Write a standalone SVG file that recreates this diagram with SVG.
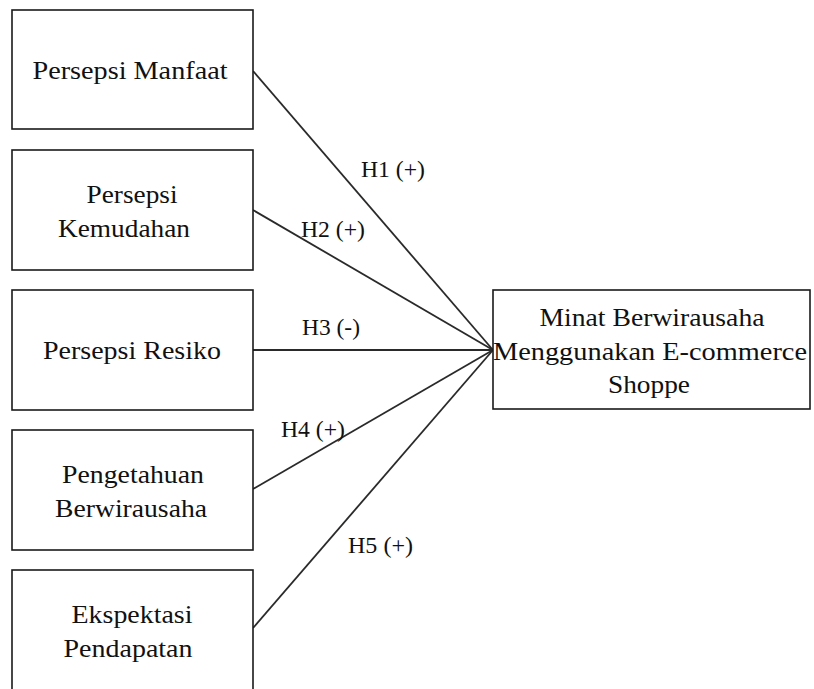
<svg xmlns="http://www.w3.org/2000/svg" width="814" height="689" viewBox="0 0 814 689">
<style>
.box{fill:#ffffff;stroke:#1a1a1a;stroke-width:1.6}
.t{font-family:"Liberation Serif","Times New Roman",serif;font-size:26px;fill:#111111;text-anchor:middle}
.h{font-family:"Liberation Serif","Times New Roman",serif;font-size:24px;fill:#111111}
.c{stroke:#2a2a2a;stroke-width:1.8;fill:none}
</style>
<rect width="814" height="689" fill="#ffffff"/>
<g id="connectors">
<line class="c" x1="253" y1="71" x2="493" y2="350"/>
<line class="c" x1="253" y1="210" x2="493" y2="350"/>
<line class="c" x1="253" y1="350" x2="493" y2="350"/>
<line class="c" x1="253" y1="489" x2="493" y2="350"/>
<line class="c" x1="253" y1="628" x2="493" y2="350"/>
<text class="h" x="361" y="177" textLength="64" lengthAdjust="spacingAndGlyphs">H1 (+)</text>
<text class="h" x="301" y="237" textLength="64" lengthAdjust="spacingAndGlyphs">H2 (+)</text>
<text class="h" x="302" y="335" textLength="58" lengthAdjust="spacingAndGlyphs">H3 (-)</text>
<text class="h" x="281" y="437" textLength="64" lengthAdjust="spacingAndGlyphs">H4 (+)</text>
<text class="h" x="348" y="553" textLength="65" lengthAdjust="spacingAndGlyphs">H5 (+)</text>
</g>
<g id="node-persepsi-manfaat">
<rect class="box" x="12" y="10" width="241" height="119"/>
<text class="t" x="130" y="79" textLength="195" lengthAdjust="spacingAndGlyphs">Persepsi Manfaat</text>
</g>
<g id="node-persepsi-kemudahan">
<rect class="box" x="12" y="150" width="241" height="120"/>
<text class="t" x="132" y="203" textLength="91" lengthAdjust="spacingAndGlyphs">Persepsi</text>
<text class="t" x="124" y="237" textLength="132" lengthAdjust="spacingAndGlyphs">Kemudahan</text>
</g>
<g id="node-persepsi-resiko">
<rect class="box" x="12" y="290" width="241" height="120"/>
<text class="t" x="132" y="359" textLength="178" lengthAdjust="spacingAndGlyphs">Persepsi Resiko</text>
</g>
<g id="node-pengetahuan">
<rect class="box" x="12" y="430" width="241" height="120"/>
<text class="t" x="133" y="483" textLength="142" lengthAdjust="spacingAndGlyphs">Pengetahuan</text>
<text class="t" x="131" y="517" textLength="152" lengthAdjust="spacingAndGlyphs">Berwirausaha</text>
</g>
<g id="node-ekspektasi">
<rect class="box" x="12" y="570" width="241" height="125"/>
<text class="t" x="132" y="623" textLength="121" lengthAdjust="spacingAndGlyphs">Ekspektasi</text>
<text class="t" x="128" y="657" textLength="129" lengthAdjust="spacingAndGlyphs">Pendapatan</text>
</g>
<g id="node-minat">
<rect class="box" x="493" y="290" width="317" height="119"/>
<text class="t" x="652" y="326" textLength="225" lengthAdjust="spacingAndGlyphs">Minat Berwirausaha</text>
<text class="t" x="650" y="360" textLength="314" lengthAdjust="spacingAndGlyphs">Menggunakan E-commerce</text>
<text class="t" x="649" y="393" textLength="82" lengthAdjust="spacingAndGlyphs">Shoppe</text>
</g>
</svg>
